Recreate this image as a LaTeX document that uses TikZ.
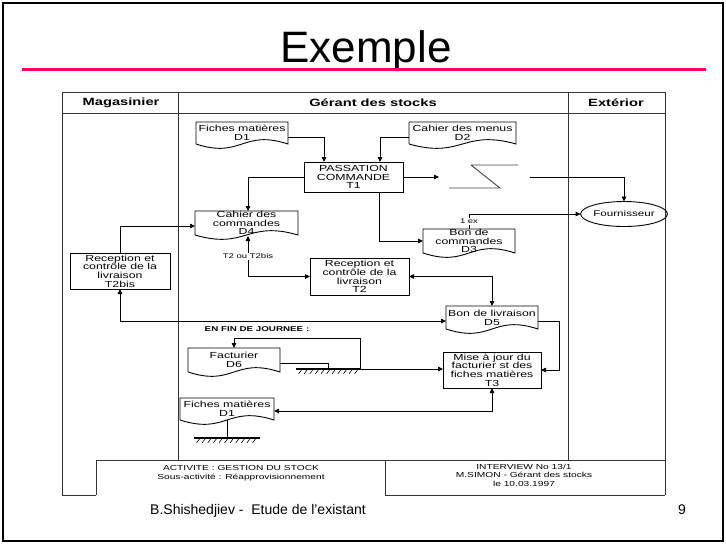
\documentclass[tikz,border=0pt]{standalone}
\usepackage{fontspec}
\setmainfont{Liberation Sans}
\newfontfamily\dfont[FakeStretch=1.4]{Liberation Sans}
\usetikzlibrary{arrows.meta,calc,shapes.geometric}
\definecolor{pinkline}{RGB}{255,0,102}
\newcommand\docout[1]{\draw[line width=0.9pt] (#1.south west) -- (#1.north west) -- (#1.north east) -- (#1.south east) .. controls ($(#1.south)+(0,-15)$) and ($(#1.south)+(0,15)$) .. (#1.south west);}
\newcommand\groundsym[1]{\draw[line width=1.8pt] (#1.west) -- (#1.east);
  \foreach \k in {1,...,11}{\draw[line width=0.6pt] ($(#1.west)+(\k*5.6,0.8)$) -- ++(-3,4);}}
\tikzset{
  base/.style={inner sep=0pt, outer sep=0pt, align=center, font=\dfont\fontsize{8.8}{8.7}\selectfont},
  proc/.style={base, draw, line width=0.9pt, anchor=north west},
  docn/.style={base, anchor=north west},
  lane/.style={line width=0.9pt, draw=black!80},
  conn/.style={line width=0.8pt},
  arr/.style={conn, -{Triangle[length=5pt,width=4.5pt]}},
  barr/.style={conn, {Triangle[length=5pt,width=4.5pt]}-{Triangle[length=5pt,width=4.5pt]}},
  small/.style={font=\dfont\fontsize{6.8}{7}\selectfont, fill=white, inner sep=0.8pt},
  hdr/.style={font=\dfont\bfseries\fontsize{10.5}{10.5}\selectfont},
  foot/.style={align=center, inner sep=0pt, font=\dfont\fontsize{7.3}{8.5}\selectfont},
  gnd/.style={inner sep=0pt, outer sep=0pt, minimum height=0pt},
}
\begin{document}
\begin{tikzpicture}[x=1pt,y=-1pt]
\useasboundingbox (0,0) rectangle (726,544);
% slide frame, title and footer
\draw[line width=1.8pt] (3,3) rectangle (723,541);
\node[anchor=base, font=\fontsize{44}{44}\selectfont, inner sep=0pt] (title) at (366,62) {Exemple};
\draw[line width=3pt, pinkline] (22,69) -- (706,69);
\node[anchor=base west, font=\fontsize{14}{14}\selectfont, inner sep=0pt] (footer) at (150,514) {B.Shishedjiev -\ \ Etude de l'existant};
\node[anchor=base, font=\fontsize{14}{14}\selectfont, inner sep=0pt] (pagenum) at (682,514) {9};
% lanes
\draw[lane] (62,92) rectangle (665,113);
\draw[lane] (178,92) -- (178,460) (568,92) -- (568,460);
\draw[lane] (62,113) -- (62,495) -- (96,495);
\draw[lane] (665,113) -- (665,495);
\draw[lane] (96,495) -- (96,460) -- (665,460) (385,460) -- (385,495) -- (665,495);
\node[hdr] (hmag) at (121,102.5) {Magasinier};
\node[hdr] (hger) at (373,102.5) {Gérant des stocks};
\node[hdr] (hext) at (616,102.5) {Extérior};
\node[foot] (act) at (241,473) {ACTIVITE : GESTION DU STOCK\\Sous-activité : Réapprovisionnement};
\node[foot] (itv) at (524,475) {INTERVIEW No 13/1\\M.SIMON - Gérant des stocks\\le 10.03.1997};
% nodes
\node[docn, minimum width=92pt, minimum height=22pt] (d1) at (196,122) {Fiches matières\\D1}; \docout{d1}
\node[docn, minimum width=107pt, minimum height=22pt] (d2) at (409,122) {Cahier des menus\\D2}; \docout{d2}
\node[proc, minimum width=99pt, minimum height=30pt] (t1) at (304,162) {PASSATION\\COMMANDE\\T1};
\node[docn, minimum width=103pt, minimum height=24pt] (d4) at (195,211) {Cahier des\\commandes\\D4}; \docout{d4}
\node[docn, minimum width=92pt, minimum height=24pt] (d3) at (423,229) {Bon de\\commandes\\D3}; \docout{d3}
\node[base, draw, ellipse, line width=0.9pt, minimum width=72pt, minimum height=25pt, font=\dfont\fontsize{8.3}{8}\selectfont] (four) at (624,214) {Fournisseur};
\node[proc, minimum width=100pt, minimum height=36pt] (t2bis) at (70,253) {Reception et\\contrôle de la\\livraison\\T2bis};
\node[proc, minimum width=99pt, minimum height=37pt] (t2) at (310,258) {Reception et\\contrôle de la\\livraison\\T2};
\node[docn, minimum width=92pt, minimum height=23pt] (d5) at (446,306) {Bon de livraison\\D5}; \docout{d5}
\node[font=\dfont\bfseries\fontsize{7}{7}\selectfont, inner sep=0pt] (efj) at (257,329) {EN FIN DE JOURNEE :};
\node[docn, minimum width=92pt, minimum height=24pt] (d6) at (188,348) {Facturier\\D6}; \docout{d6}
\node[proc, minimum width=98pt, minimum height=36pt] (t3) at (443,352) {Mise à jour du\\facturier st des\\fiches matières\\T3};
\node[docn, minimum width=94pt, minimum height=22pt] (d1b) at (180,398) {Fiches matières\\D1}; \docout{d1b}
\node[gnd, minimum width=64pt] (g1) at (328,369) {}; \groundsym{g1}
\node[gnd, minimum width=66pt] (g2) at (227,438) {}; \groundsym{g2}
% transmission symbol
\draw[line width=0.9pt, black!75] (471,165) -- (518,165) (471,165) -- (500,188) -- (449,188);
\coordinate (zout) at (530,177);
% connectors
\draw[arr] ($(d1.north east)+(0,15)$) -| ($(t1.north west)+(20,0)$);
\draw[arr] ($(d2.north west)+(0,15)$) -| ($(t1.north west)+(76,0)$);
\draw[arr] (t1.west) -| ($(d4.north west)+(53,0)$);
\draw[arr] (t1.east) -- ($(t1.east)+(36,0)$);
\draw[arr] (zout) -| (four.north);
\draw[arr] ($(t1.south west)+(75,0)$) |- (d3.west);
\draw[arr] (d3.north) |- (four.west) node[small,pos=0.25] {1 ex};
\draw[arr] (t2bis.north) |- ($(d4.north west)+(0,15)$);
\draw[barr] ($(d4.south west)+(53,1)$) |- (t2.west) node[small,pos=0.25] {T2 ou T2bis};
\draw[barr] (t2.east) -| (d5.north);
\draw[barr] (t2bis.south) |- ($(d5.north west)+(0,15)$);
\draw[arr] ($(d5.north east)+(0,15)$) -- ++(21,0) |- (t3.east);
\draw[conn] ($(d6.north east)+(0,15)$) -| (g1.center);
\draw[arr] (g1.east) -- (g1.east -| t3.west);
\draw[arr] (g1.east) -- ++(0,-31) -| (d6.north);
\draw[barr] (t3.south) |- ($(d1b.north east)+(0,13)$);
\draw[conn] (d1b.south) -- (d1b.south |- g2.center);
\end{tikzpicture}
\end{document}
